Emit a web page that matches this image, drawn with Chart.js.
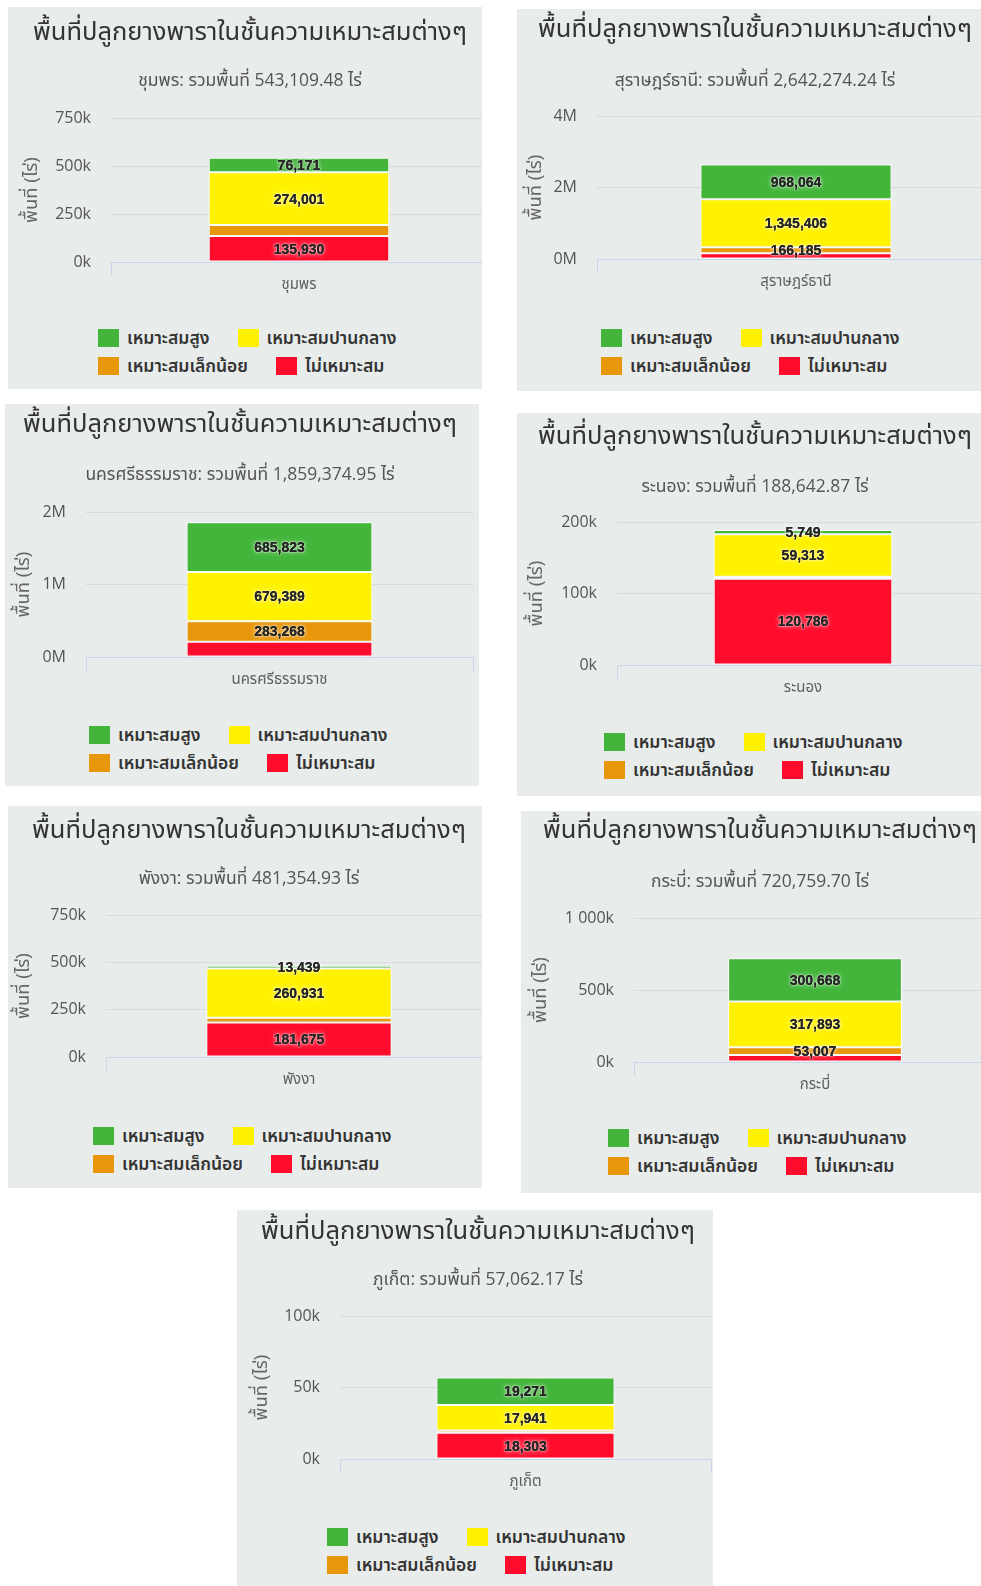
<!DOCTYPE html>
<html lang="th">
<head>
<meta charset="utf-8">
<title>พื้นที่ปลูกยางพาราในชั้นความเหมาะสมต่างๆ</title>
<script src="https://cdn.jsdelivr.net/npm/chart.js@4.4.1/dist/chart.umd.min.js"></script>
<style>
  html, body { margin: 0; padding: 0; background: #ffffff; }
  body { position: relative; width: 981px; height: 1586px; overflow: hidden; }
  .panel { position: absolute; overflow: hidden; background: #e8eceb; }
  .panel canvas { position: absolute; top: 0; }
  .legend { position: absolute; display: flex; flex-wrap: wrap; width: 390px;
            font-size: 17.5px; font-weight: 600; color: #333333; }
  .legend .item { display: flex; align-items: center; height: 28px; margin-right: 28px; white-space: nowrap; }
  .legend .box { width: 21px; height: 18px; margin-right: 8px; flex: none; }
</style>
</head>
<body>
<script>
// ---- data ----------------------------------------------------------------
const chartTitle = 'พื้นที่ปลูกยางพาราในชั้นความเหมาะสมต่างๆ';
const totalWord = 'รวมพื้นที่';
const areaUnit = 'ไร่';
const yAxisTitle = 'พื้นที่ (ไร่)';

const provinces = ['ชุมพร', 'สุราษฎร์ธานี', 'นครศรีธรรมราช', 'ระนอง', 'พังงา', 'กระบี่', 'ภูเก็ต'];
const seriesNames = ['เหมาะสมสูง', 'เหมาะสมปานกลาง', 'เหมาะสมเล็กน้อย', 'ไม่เหมาะสม'];

// area (rai) per suitability class, one value per province
const highlySuitable     = [76171, 968064, 685823, 5749, 13439, 300668, 19271];
const moderatelySuitable = [274001, 1345406, 679389, 59313, 260931, 317893, 17941];
const marginallySuitable = [57007.48, 166185, 283268, 2794.87, 25309.93, 53007, 1547.17];
const notSuitable        = [135930, 162619.24, 210894.95, 120786, 181675, 49191.70, 18303];

// value axis for each province chart
const axisMax  = [750000, 4000000, 2000000, 200000, 750000, 1000000, 100000];
const axisStep = [250000, 2000000, 1000000, 100000, 250000, 500000, 50000];
const tickLabels = [
  ['0k', '250k', '500k', '750k'],
  ['0M', '2M', '4M'],
  ['0M', '1M', '2M'],
  ['0k', '100k', '200k'],
  ['0k', '250k', '500k', '750k'],
  ['0k', '500k', '1 000k'],
  ['0k', '50k', '100k']
];

// ---- look & layout -------------------------------------------------------
const seriesColors = ['#42b53a', '#fff200', '#e8960a', '#ff0c2c'];
const thaiFont  = '"Noto Sans Thai", "Noto Sans Thai UI", Tahoma, "DejaVu Sans", sans-serif';
const latinFont = '"Open Sans", ' + thaiFont;
const TITLE_SIZE = 25.5;
const SUB_SIZE = 17.5;
const AXIS_TITLE_SIZE = 18.5;

// panel boxes on the page
const panelBoxes = [
  { x: 8,   y: 7,    w: 474, h: 382 },
  { x: 517, y: 9,    w: 464, h: 382 },
  { x: 5,   y: 404,  w: 474, h: 382 },
  { x: 517, y: 413,  w: 464, h: 383 },
  { x: 8,   y: 806,  w: 474, h: 382 },
  { x: 521, y: 811,  w: 460, h: 382 },
  { x: 237, y: 1210, w: 476, h: 376 }
];
// positions inside each panel: title centre, title/subtitle rows, plot box,
// y-axis title column and legend origin
const panelLayout = [
  { tc: 242, tY: 28, sY: 74, top: 111, bottom: 255, left: 103, right: 479, yT: 25, legX: 90, legY: 331 },
  { tc: 238, tY: 23, sY: 72, top: 107, bottom: 250, left: 80,  right: 478, yT: 20, legX: 84, legY: 329 },
  { tc: 235, tY: 23, sY: 71, top: 108, bottom: 253, left: 81,  right: 468, yT: 20, legX: 84, legY: 331 },
  { tc: 238, tY: 26, sY: 74, top: 109, bottom: 252, left: 100, right: 472, yT: 21, legX: 87, legY: 329 },
  { tc: 241, tY: 27, sY: 73, top: 109, bottom: 251, left: 98,  right: 484, yT: 17, legX: 85, legY: 330 },
  { tc: 239, tY: 22, sY: 71, top: 107, bottom: 251, left: 113, right: 475, yT: 21, legX: 87, legY: 327 },
  { tc: 241, tY: 24, sY: 70, top: 106, bottom: 249, left: 103, right: 474, yT: 26, legX: 90, legY: 327 }
];
const OFFSET = 20;         // canvas starts this far left of the panel edge
const LABEL_HEIGHT = 22.5; // vertical room a value label needs

// values printed in the middle of each stacked segment; when two labels
// collide the one belonging to the larger segment wins
const stackLabels = {
  id: 'stackLabels',
  afterDatasetsDraw(chart) {
    const ctx = chart.ctx;
    const items = [];
    chart.data.datasets.forEach((ds, di) => {
      chart.getDatasetMeta(di).data.forEach((bar, j) => {
        const v = ds.data[j];
        const p = bar.getProps(['x', 'y', 'base'], true);
        items.push({ v, x: p.x, y: (p.y + p.base) / 2,
                     text: Math.round(v).toLocaleString('en-US') });
      });
    });
    items.sort((a, b) => b.v - a.v);
    const placed = [];
    ctx.save();
    ctx.font = 'bold 14px "Liberation Sans", Arial, sans-serif';
    ctx.textAlign = 'center';
    ctx.textBaseline = 'middle';
    for (const it of items) {
      if (placed.some(p => Math.abs(p.y - it.y) < LABEL_HEIGHT)) continue;
      placed.push(it);
      ctx.lineJoin = 'round';
      ctx.lineWidth = 2;
      ctx.strokeStyle = 'rgba(255,255,255,0.25)';
      ctx.strokeText(it.text, it.x, it.y + 1);
      ctx.shadowColor = 'rgba(255,255,255,0.9)';
      ctx.shadowBlur = 5;
      ctx.fillStyle = '#262626';
      ctx.fillText(it.text, it.x, it.y + 1);
      ctx.shadowBlur = 0;
      ctx.fillText(it.text, it.x, it.y + 1);
    }
    ctx.restore();
  }
};

const fmtTotal = v => v.toLocaleString('en-US', { minimumFractionDigits: 2, maximumFractionDigits: 2 });

provinces.forEach((prov, i) => {
  const b = panelBoxes[i];
  const L = panelLayout[i];

  const panel = document.createElement('div');
  panel.className = 'panel';
  Object.assign(panel.style, { left: b.x + 'px', top: b.y + 'px', width: b.w + 'px', height: b.h + 'px' });
  document.body.appendChild(panel);

  const W = L.right + OFFSET + 10;
  const H = L.bottom + 45;
  const canvas = document.createElement('canvas');
  canvas.width = W; canvas.height = H;
  canvas.style.width = W + 'px'; canvas.style.height = H + 'px';
  canvas.style.left = (-OFFSET) + 'px';
  panel.appendChild(canvas);

  const padL = 2 * (L.tc + OFFSET) - (L.right + OFFSET);
  const yAxisWidth = L.left + OFFSET - padL;
  const tHalf = TITLE_SIZE * 0.6, sHalf = SUB_SIZE * 0.6, aHalf = AXIS_TITLE_SIZE * 0.6;

  // stacked bottom-to-top: not suitable, marginal, moderate, high
  const stackOrder = [
    { name: seriesNames[3], values: notSuitable,        color: seriesColors[3] },
    { name: seriesNames[2], values: marginallySuitable, color: seriesColors[2] },
    { name: seriesNames[1], values: moderatelySuitable, color: seriesColors[1] },
    { name: seriesNames[0], values: highlySuitable,     color: seriesColors[0] }
  ];
  const total = stackOrder.reduce((s, d) => s + d.values[i], 0);

  const chart = new Chart(canvas, {
    type: 'bar',
    data: {
      labels: [prov],
      datasets: stackOrder.map(d => ({
        label: d.name,
        data: [d.values[i]],
        backgroundColor: d.color,
        borderColor: '#ffffff',
        borderWidth: 1,
        borderSkipped: false,
        categoryPercentage: 0.6,
        barPercentage: 0.8
      }))
    },
    options: {
      responsive: false,
      animation: false,
      devicePixelRatio: 1,
      layout: { padding: { left: padL, right: 10, top: 0, bottom: 5 } },
      plugins: {
        legend: { display: false, labels: { sort: (a, c) => c.datasetIndex - a.datasetIndex } },
        tooltip: { enabled: false },
        title: {
          display: true, text: chartTitle, color: '#333333',
          font: { family: thaiFont, size: TITLE_SIZE, weight: 'normal', lineHeight: 1.2 },
          padding: { top: L.tY - tHalf, bottom: 0 }
        },
        subtitle: {
          display: true,
          text: prov + ': ' + totalWord + ' ' + fmtTotal(total) + ' ' + areaUnit,
          color: '#555555',
          font: { family: latinFont, size: SUB_SIZE, weight: 'normal', lineHeight: 1.2 },
          padding: { top: (L.sY - sHalf) - (L.tY + tHalf), bottom: L.top - L.sY - sHalf }
        }
      },
      scales: {
        x: {
          stacked: true,
          offset: true,
          grid: { display: true, drawOnChartArea: false, drawTicks: true, tickLength: 14,
                  color: '#ccd6eb', offset: true },
          border: { display: true, color: '#ccd6eb' },
          ticks: { color: '#606060', padding: 0, font: { family: latinFont, size: 15 } },
          afterFit: s => { s.height = 40; }
        },
        y: {
          stacked: true,
          min: 0,
          max: axisMax[i],
          ticks: {
            stepSize: axisStep[i],
            color: '#555555',
            padding: 20,
            font: { family: latinFont, size: 16 },
            callback: (v, idx) => tickLabels[i][idx]
          },
          grid: {
            drawTicks: false,
            color: c => (c.tick && c.tick.value === 0) ? 'rgba(0,0,0,0)' : '#d7dbde'
          },
          border: { display: false },
          title: {
            display: true, text: yAxisTitle, color: '#666666',
            font: { family: thaiFont, size: AXIS_TITLE_SIZE, lineHeight: 1.2 },
            padding: { top: L.yT + OFFSET - padL - aHalf, bottom: 0 }
          },
          afterFit: s => { s.width = yAxisWidth; }
        }
      }
    },
    plugins: [stackLabels]
  });

  // legend built from the chart's own legend items
  const legendOpts = chart.options.plugins.legend.labels;
  const items = legendOpts.generateLabels(chart).sort(legendOpts.sort);
  const legend = document.createElement('div');
  legend.className = 'legend';
  legend.style.fontFamily = thaiFont;
  legend.style.left = L.legX + 'px';
  legend.style.top = (L.legY - 14) + 'px';
  items.forEach(it => {
    const item = document.createElement('div');
    item.className = 'item';
    const box = document.createElement('span');
    box.className = 'box';
    box.style.background = it.fillStyle;
    const txt = document.createElement('span');
    txt.textContent = it.text;
    item.appendChild(box);
    item.appendChild(txt);
    legend.appendChild(item);
  });
  panel.appendChild(legend);
});
</script>
</body>
</html>
